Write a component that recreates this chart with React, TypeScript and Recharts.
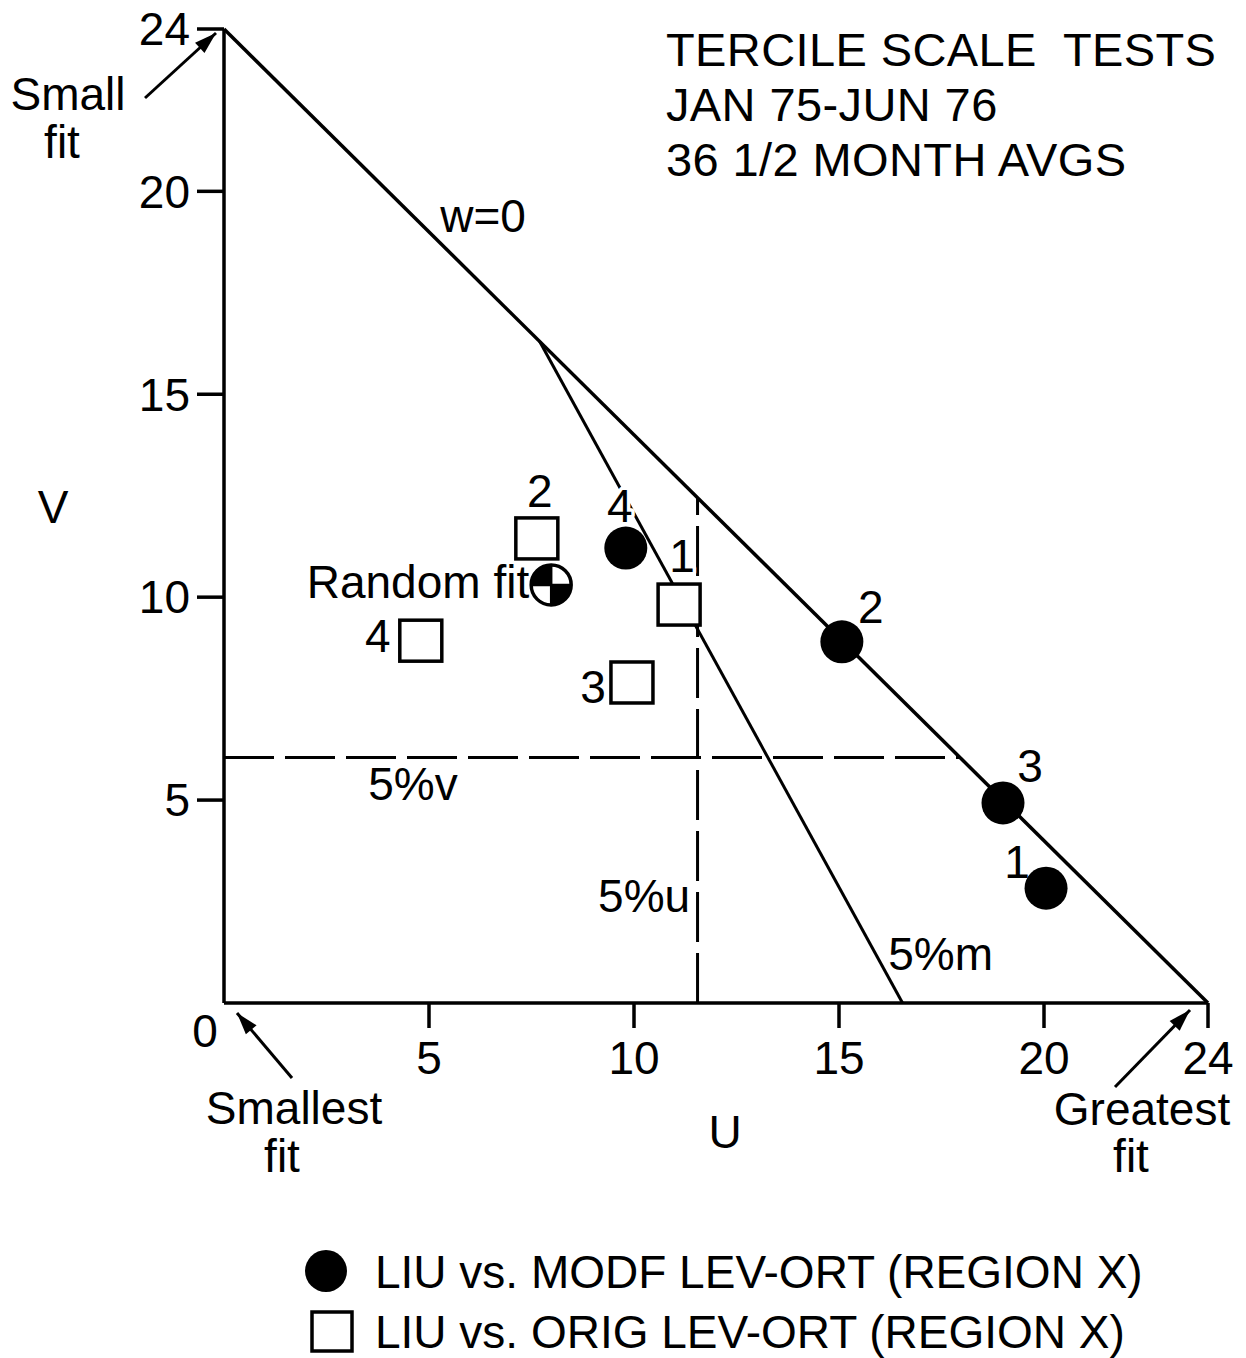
import React from 'react';
import {
  ScatterChart,
  Scatter,
  XAxis,
  YAxis,
  ReferenceLine,
  ReferenceDot,
  Legend,
  Label,
} from 'recharts';

// ---------- data ----------
const MODF_IDS = ['1', '2', '3', '4'];
const MODF_U = [20.05, 15.07, 19.0, 9.8];
const MODF_V = [2.83, 8.9, 4.93, 11.21];

const ORIG_IDS = ['1', '2', '3', '4'];
const ORIG_U = [11.1, 7.63, 9.95, 4.8];
const ORIG_V = [9.83, 11.46, 7.91, 8.94];

const RANDOM_U = [7.98];
const RANDOM_V = [10.3];

const X_TICKS = [0, 5, 10, 15, 20, 24];
const Y_TICKS = [5, 10, 15, 20, 24];

const W0_LINE = [{ u: 0, v: 24 }, { u: 24, v: 0 }];
const M5_LINE = [{ u: 7.7, v: 16.3 }, { u: 16.55, v: 0 }];
const U5_LINE = [{ u: 11.55, v: 0 }, { u: 11.55, v: 12.45 }];
const V5_LINE = [{ u: 0, v: 6.05 }, { u: 17.95, v: 6.05 }];

const SERIES_NAMES = ['LIU vs. MODF LEV-ORT (REGION X)', 'LIU vs. ORIG LEV-ORT (REGION X)'];
const TITLE_LINES = ['TERCILE SCALE  TESTS', 'JAN 75-JUN 76', '36 1/2 MONTH AVGS'];
const RANDOM_LABEL = 'Random fit';
const X_LABEL = 'U';
const Y_LABEL = 'V';

// ---------- styles / layout ----------
const FONT = '"Liberation Sans", Arial, Helvetica, sans-serif';
const INK = '#000';
const FS = 46;

const modfData = MODF_U.map((u, i) => ({ u, v: MODF_V[i], id: MODF_IDS[i] }));
const origData = ORIG_U.map((u, i) => ({ u, v: ORIG_V[i], id: ORIG_IDS[i] }));
const randomData = RANDOM_U.map((u, i) => ({ u, v: RANDOM_V[i] }));

const MODF_LABEL_OFFSET: Record<string, [number, number]> = {
  '1': [-29, -10],
  '2': [29, -19],
  '3': [27, -21],
  '4': [-6, -26],
};
const ORIG_LABEL_OFFSET: Record<string, [number, number]> = {
  '1': [3, -32],
  '2': [3, -31],
  '3': [-39, 21],
  '4': [-43, 12],
};

// text notes anchored in data coordinates
const NOTES = [
  { text: 'w=0', u: 6.32, v: 19.0, anchor: 'middle' },
  { text: '5%v', u: 4.61, v: 5.0, anchor: 'middle' },
  { text: '5%u', u: 11.37, v: 2.24, anchor: 'end' },
  { text: '5%m', u: 16.2, v: 0.81, anchor: 'start' },
];

const TITLE_ANCHOR = { u: 10.78, v: 23.09 };
const TITLE_LINE_GAP = 55;

const CALLOUTS = [
  {
    u: 0, v: 24,
    lines: [{ t: 'Small', dx: -156, dy: 81 }, { t: 'fit', dx: -162, dy: 129 }],
    tail: [-79, 69], tip: [-8, 4],
  },
  {
    u: 0, v: 0,
    lines: [{ t: 'Smallest', dx: 70, dy: 121 }, { t: 'fit', dx: 58, dy: 169 }],
    tail: [68, 75], tip: [13, 10],
  },
  {
    u: 24, v: 0,
    lines: [{ t: 'Greatest', dx: -66, dy: 122 }, { t: 'fit', dx: -77, dy: 169 }],
    tail: [-93, 84], tip: [-18, 7],
  },
];

const CHART_W = 1230;
const CHART_H = 1358;
const PLOT_TOP = 29;
const PLOT_BOTTOM = 1003;
const X_AXIS_H = 60;

const textProps = {
  fontFamily: FONT,
  fontSize: FS,
  fill: INK,
};

function arrowHead(x1: number, y1: number, x2: number, y2: number) {
  const a = Math.atan2(y2 - y1, x2 - x1);
  const L = 22;
  const W = 7;
  const bx = x2 - L * Math.cos(a);
  const by = y2 - L * Math.sin(a);
  const px = -Math.sin(a) * W;
  const py = Math.cos(a) * W;
  return `${x2},${y2} ${bx + px},${by + py} ${bx - px},${by - py}`;
}

const PointLabel = ({ x, y, text }: { x: number; y: number; text: string }) => (
  <text
    x={x}
    y={y}
    textAnchor="middle"
    {...textProps}
    stroke="#fff"
    strokeWidth={7}
    strokeLinejoin="round"
    paintOrder="stroke"
  >
    {text}
  </text>
);

const modfShape = (p: any) => {
  const { cx, cy, payload } = p;
  if (cx == null || cy == null) return <g />;
  const [dx, dy] = MODF_LABEL_OFFSET[payload.id] || [0, -30];
  return (
    <g>
      <PointLabel x={cx + dx} y={cy + dy} text={payload.id} />
      <circle cx={cx} cy={cy} r={21.5} fill={INK} />
    </g>
  );
};

const origShape = (p: any) => {
  const { cx, cy, payload } = p;
  if (cx == null || cy == null) return <g />;
  const [dx, dy] = ORIG_LABEL_OFFSET[payload.id] || [0, -30];
  return (
    <g>
      <PointLabel x={cx + dx} y={cy + dy} text={payload.id} />
      <rect x={cx - 21} y={cy - 20} width={42} height={41} fill="#fff" stroke={INK} strokeWidth={3.5} />
    </g>
  );
};

const randomShape = (p: any) => {
  const { cx, cy } = p;
  if (cx == null || cy == null) return <g />;
  const r = 20;
  return (
    <g>
      <text x={cx - 22} y={cy + 13} textAnchor="end" {...textProps}>{RANDOM_LABEL}</text>
      <circle cx={cx} cy={cy} r={r} fill="#fff" stroke={INK} strokeWidth={3.5} />
      <path d={`M${cx},${cy} L${cx - r},${cy} A${r},${r} 0 0 1 ${cx},${cy - r} Z`} fill={INK} />
      <path d={`M${cx},${cy} L${cx + r},${cy} A${r},${r} 0 0 1 ${cx},${cy + r} Z`} fill={INK} />
      <line x1={cx - r} y1={cy} x2={cx + r} y2={cy} stroke={INK} strokeWidth={2.5} />
      <line x1={cx} y1={cy - r} x2={cx} y2={cy + r} stroke={INK} strokeWidth={2.5} />
    </g>
  );
};

const XTick = (p: any) => {
  const { x, y, payload } = p;
  const val = payload.value;
  if (val === 0) {
    return (
      <text x={x - 19} y={y + 44} textAnchor="middle" {...textProps}>0</text>
    );
  }
  return (
    <g>
      <line x1={x} y1={y} x2={x} y2={y + 25} stroke={INK} strokeWidth={3.5} />
      <text x={x} y={y + 71} textAnchor="middle" {...textProps}>{val}</text>
    </g>
  );
};

const XAxisLabel = (p: any) => {
  const vb = p.viewBox;
  if (!vb) return null;
  return (
    <text x={vb.x + vb.width / 2 + 9} y={vb.y + 145} textAnchor="middle" {...textProps}>{X_LABEL}</text>
  );
};

const YAxisLabel = (p: any) => {
  const vb = p.viewBox;
  if (!vb) return null;
  return (
    <text x={vb.x - 71} y={vb.y + vb.height / 2 + 7} textAnchor="middle" {...textProps}>{Y_LABEL}</text>
  );
};

const renderLegend = (props: any) => {
  const payload = (props.payload || []).filter((e: any) => SERIES_NAMES.includes(e.value));
  return (
    <svg width={900} height={122} style={{ display: 'block', overflow: 'visible' }}>
      {payload.map((e: any) => {
        const idx = SERIES_NAMES.indexOf(e.value);
        const cy = 35 + idx * 60;
        return (
          <g key={e.value}>
            {idx === 0 ? (
              <circle cx={38} cy={cy} r={21} fill={INK} />
            ) : (
              <rect x={24} y={cy - 19} width={40} height={39} fill="#fff" stroke={INK} strokeWidth={3.5} />
            )}
            <text x={87} y={cy + 17} fontFamily={FONT} fontSize={46} fill={INK}>{e.value}</text>
          </g>
        );
      })}
    </svg>
  );
};

export default function App() {
  return (
    <div style={{ width: CHART_W, height: CHART_H, background: '#fff', marginTop: -8 }}>
      <ScatterChart
        width={CHART_W}
        height={CHART_H}
        margin={{ top: PLOT_TOP, right: 30, bottom: CHART_H - PLOT_BOTTOM - X_AXIS_H, left: 116 }}
      >
        <XAxis
          type="number"
          dataKey="u"
          domain={[0, 24]}
          ticks={X_TICKS}
          interval={0}
          allowDataOverflow
          height={X_AXIS_H}
          axisLine={{ stroke: INK, strokeWidth: 3.5 }}
          tickLine={false}
          tickSize={0}
          tickMargin={0}
          tick={XTick}
        >
          <Label content={XAxisLabel} />
        </XAxis>
        <YAxis
          type="number"
          dataKey="v"
          domain={[0, 24]}
          ticks={Y_TICKS}
          interval={0}
          allowDataOverflow
          width={100}
          axisLine={{ stroke: INK, strokeWidth: 3.5 }}
          tickLine={{ stroke: INK, strokeWidth: 3.5 }}
          tickSize={27}
          tickMargin={7}
          tick={{ fontSize: FS, fill: INK, fontFamily: FONT }}
        >
          <Label content={YAxisLabel} />
        </YAxis>

        <ReferenceLine
          segment={[{ x: W0_LINE[0].u, y: W0_LINE[0].v }, { x: W0_LINE[1].u, y: W0_LINE[1].v }]}
          stroke={INK}
          strokeWidth={3.5}
          ifOverflow="visible"
        />
        <ReferenceLine
          segment={[{ x: M5_LINE[0].u, y: M5_LINE[0].v }, { x: M5_LINE[1].u, y: M5_LINE[1].v }]}
          stroke={INK}
          strokeWidth={3}
          ifOverflow="visible"
        />
        <ReferenceLine
          segment={[{ x: U5_LINE[0].u, y: U5_LINE[0].v }, { x: U5_LINE[1].u, y: U5_LINE[1].v }]}
          stroke={INK}
          strokeWidth={3}
          strokeDasharray="50 11"
          ifOverflow="visible"
        />
        <ReferenceLine
          segment={[{ x: V5_LINE[0].u, y: V5_LINE[0].v }, { x: V5_LINE[1].u, y: V5_LINE[1].v }]}
          stroke={INK}
          strokeWidth={3}
          strokeDasharray="50 11"
          ifOverflow="visible"
        />

        {NOTES.map((n) => (
          <ReferenceDot
            key={n.text}
            x={n.u}
            y={n.v}
            r={0}
            ifOverflow="visible"
            shape={(p: any) => (
              <text x={p.cx} y={p.cy} textAnchor={n.anchor as any} {...textProps}>{n.text}</text>
            )}
          />
        ))}

        <ReferenceDot
          x={TITLE_ANCHOR.u}
          y={TITLE_ANCHOR.v}
          r={0}
          ifOverflow="visible"
          shape={(p: any) => (
            <g>
              {TITLE_LINES.map((t, i) => (
                <text
                  key={t}
                  x={p.cx}
                  y={p.cy + i * TITLE_LINE_GAP}
                  fontFamily={FONT}
                  fontSize={47}
                  fill={INK}
                  letterSpacing={0.4}
                  style={{ whiteSpace: 'pre' }}
                >
                  {t}
                </text>
              ))}
            </g>
          )}
        />

        {CALLOUTS.map((c, k) => (
          <ReferenceDot
            key={'callout' + k}
            x={c.u}
            y={c.v}
            r={0}
            ifOverflow="visible"
            shape={(p: any) => {
              const x1 = p.cx + c.tail[0];
              const y1 = p.cy + c.tail[1];
              const x2 = p.cx + c.tip[0];
              const y2 = p.cy + c.tip[1];
              return (
                <g>
                  <line x1={x1} y1={y1} x2={x2} y2={y2} stroke={INK} strokeWidth={3} />
                  <polygon points={arrowHead(x1, y1, x2, y2)} fill={INK} />
                  <text textAnchor="middle" {...textProps}>
                    {c.lines.map((l) => (
                      <tspan key={l.t + l.dy} x={p.cx + l.dx} y={p.cy + l.dy}>
                        {l.t}
                      </tspan>
                    ))}
                  </text>
                </g>
              );
            }}
          />
        ))}

        <Scatter
          name={SERIES_NAMES[1]}
          data={origData}
          fill={INK}
          shape={origShape}
          isAnimationActive={false}
        />
        <Scatter
          name="Random fit"
          data={randomData}
          fill={INK}
          shape={randomShape}
          legendType="none"
          isAnimationActive={false}
        />
        <Scatter
          name={SERIES_NAMES[0]}
          data={modfData}
          fill={INK}
          shape={modfShape}
          isAnimationActive={false}
        />

        <Legend
          layout="vertical"
          align="center"
          verticalAlign="middle"
          content={renderLegend}
          wrapperStyle={{ top: 1236, left: 280, width: 900, height: 122 }}
        />
      </ScatterChart>
    </div>
  );
}
